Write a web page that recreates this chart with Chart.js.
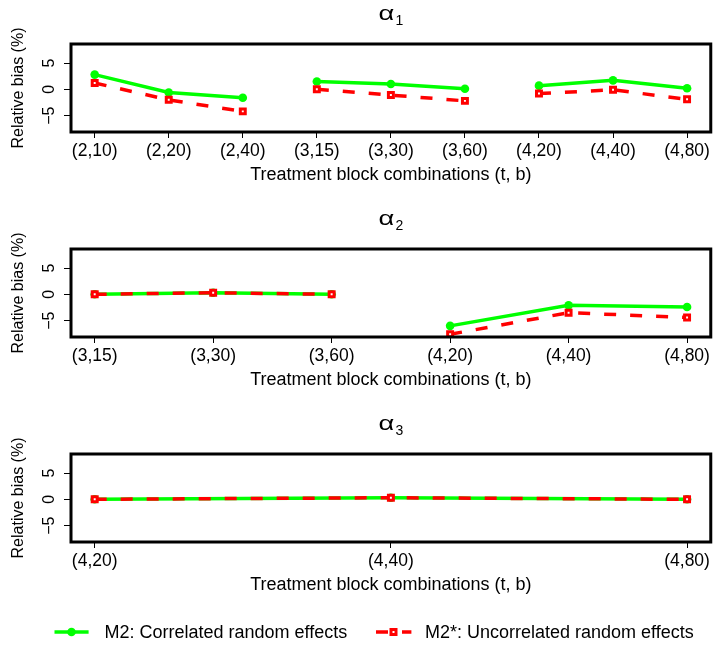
<!DOCTYPE html>
<html>
<head>
<meta charset="utf-8">
<title>Relative bias by treatment block combination</title>
<script src="https://cdn.jsdelivr.net/npm/chart.js@4/dist/chart.umd.min.js"></script>
<style>
  html, body { margin: 0; padding: 0; background: #fff; }
  #wrap { position: relative; width: 713px; height: 655px; overflow: hidden; }
  .panel { position: absolute; left: 0; }
  #legend { position: absolute; left: 0; top: 612px; }
</style>
</head>
<body>
<div id="wrap">
  <canvas class="panel" id="alpha1" width="713" height="205" style="top:0px"></canvas>
  <canvas class="panel" id="alpha2" width="713" height="205" style="top:205px"></canvas>
  <canvas class="panel" id="alpha3" width="713" height="205" style="top:410px"></canvas>
  <svg id="legend" width="713" height="40" xmlns="http://www.w3.org/2000/svg">
    <line x1="54.5" y1="20" x2="88.6" y2="20" stroke="#00ff00" stroke-width="3.5"/>
    <circle cx="71.5" cy="20" r="4.3" fill="#00ff00"/>
    <text x="104.5" y="20" dominant-baseline="central" font-family="Liberation Sans, Arial, sans-serif" font-size="18" fill="#000">M2: Correlated random effects</text>
    <line x1="376" y1="20" x2="411.4" y2="20" stroke="#ff0000" stroke-width="3.5" stroke-dasharray="12 14"/>
    <rect x="391" y="17.5" width="5" height="5" fill="#fff" stroke="#ff0000" stroke-width="3"/>
    <text x="425" y="20" dominant-baseline="central" font-family="Liberation Sans, Arial, sans-serif" font-size="18" fill="#000">M2*: Uncorrelated random effects</text>
  </svg>
</div>
<script>
// Treatment block combinations (t, b) and relative bias (%) for each parameter
const labelsAlpha1 = ['(2,10)', '(2,20)', '(2,40)', '(3,15)', '(3,30)', '(3,60)', '(4,20)', '(4,40)', '(4,80)'];
const m2Alpha1     = [2.8, -0.6, -1.6, 1.5, 1.0, 0.1, 0.7, 1.7, 0.2];
const m2sAlpha1    = [1.2, -2.0, -4.2, 0.0, -1.1, -2.2, -0.8, -0.1, -1.9];

const labelsAlpha2 = ['(3,15)', '(3,30)', '(3,60)', '(4,20)', '(4,40)', '(4,80)'];
const m2Alpha2     = [0.0, 0.3, 0.0, -6.0, -2.1, -2.4];
const m2sAlpha2    = [0.0, 0.3, 0.0, -7.6, -3.5, -4.4];

const labelsAlpha3 = ['(4,20)', '(4,40)', '(4,80)'];
const m2Alpha3     = [0.0, 0.3, 0.0];
const m2sAlpha3    = [0.0, 0.3, 0.0];

const yTicks = [-5, 0, 5];
const yLimits = [-7.5, 8];

const GREEN = '#00ff00';
const RED = '#ff0000';
const FONT = '"Liberation Sans", Arial, sans-serif';

Chart.defaults.font.family = FONT;
Chart.defaults.color = '#000';

// number of treatments t in a "(t,b)" label; lines break where t changes
function treatmentsOf(label) {
  return label.slice(1, label.indexOf(','));
}

function toPoints(labels, values) {
  const pts = [];
  labels.forEach((lab, i) => {
    if (i > 0 && treatmentsOf(labels[i - 1]) !== treatmentsOf(lab)) {
      pts.push({ x: i + 0.5, y: null });
    }
    pts.push({ x: i + 1, y: values[i] });
  });
  return pts;
}

function fmtTick(v) {
  return v < 0 ? '\u2212' + Math.abs(v) : String(v);
}

// frame around the plotting region, vertical y tick labels and the alpha_k heading
const framePlugin = {
  id: 'frame',
  afterDraw(chart, args, opts) {
    const { ctx, chartArea: a } = chart;
    ctx.save();
    ctx.strokeStyle = '#000';
    ctx.lineWidth = 3;
    ctx.strokeRect(a.left, a.top, a.right - a.left, a.bottom - a.top);

    // y tick labels read bottom-to-top, parallel to the axis
    const ys = chart.scales.y;
    ctx.fillStyle = '#000';
    ctx.font = '16px ' + FONT;
    ctx.textAlign = 'center';
    ctx.textBaseline = 'middle';
    ys.ticks.forEach(t => {
      const py = ys.getPixelForValue(t.value);
      ctx.save();
      ctx.translate(a.left - 21, py);
      ctx.rotate(-Math.PI / 2);
      ctx.fillText(fmtTick(t.value), 0, 0);
      ctx.restore();
    });

    const greek = '\u03b1';
    const greekFont = '21px "Liberation Sans"';
    const stretch = 1.3;
    ctx.font = greekFont;
    const wg = ctx.measureText(greek).width * stretch;
    ctx.font = '14px ' + FONT;
    const ws = ctx.measureText(opts.sub).width;
    const cx = (a.left + a.right) / 2;
    const x0 = cx - (wg + 1 + ws) / 2;
    const base = a.top - 24;
    ctx.textBaseline = 'alphabetic';
    ctx.textAlign = 'left';
    ctx.save();
    ctx.translate(x0, base);
    ctx.scale(stretch, 1);
    ctx.font = greekFont;
    ctx.fillText(greek, 0, 0);
    ctx.restore();
    ctx.font = '14px ' + FONT;
    ctx.fillText(opts.sub, x0 + wg + 1, base + 5);
    ctx.restore();
  }
};

function makePanel(canvasId, sub, labels, m2, m2s) {
  const n = labels.length;
  const xPad = (n - 1) * 0.04;
  const ySpan = yLimits[1] - yLimits[0];
  const tickGrid = len => ({
    display: true, drawOnChartArea: false, drawTicks: true,
    tickLength: len, color: '#000', lineWidth: 1
  });
  return new Chart(document.getElementById(canvasId), {
    type: 'line',
    data: {
      datasets: [
        {
          label: 'M2*: Uncorrelated random effects',
          data: toPoints(labels, m2s),
          borderColor: RED,
          borderWidth: 3.5,
          borderDash: [12, 14],
          pointStyle: 'rect',
          pointRadius: 3.5,
          pointBorderWidth: 3,
          pointBorderColor: RED,
          pointBackgroundColor: '#fff',
          spanGaps: false,
          tension: 0,
          order: 0
        },
        {
          label: 'M2: Correlated random effects',
          data: toPoints(labels, m2),
          borderColor: GREEN,
          borderWidth: 3.5,
          pointStyle: 'circle',
          pointRadius: 4.3,
          pointBorderWidth: 0,
          pointBorderColor: GREEN,
          pointBackgroundColor: GREEN,
          spanGaps: false,
          tension: 0,
          order: 1
        }
      ]
    },
    options: {
      responsive: false,
      animation: false,
      events: [],
      layout: { padding: { left: 0, right: 2, top: 44, bottom: 0 }, autoPadding: false },
      plugins: {
        legend: { display: false },
        tooltip: { enabled: false },
        frame: { sub: sub }
      },
      scales: {
        x: {
          type: 'linear',
          min: 1 - xPad,
          max: n + xPad,
          afterBuildTicks: s => { s.ticks = labels.map((_, i) => ({ value: i + 1 })); },
          ticks: {
            callback: v => labels[Math.round(v) - 1],
            font: { size: 17.5 },
            color: '#000',
            padding: 3,
            maxRotation: 0,
            autoSkip: false
          },
          grid: tickGrid(6),
          border: { display: false },
          title: {
            display: true,
            text: 'Treatment block combinations (t, b)',
            font: { size: 18 },
            color: '#000',
            padding: { top: 0, bottom: 19 }
          },
          afterFit: s => { s.height = 73; }
        },
        y: {
          min: yLimits[0] - ySpan * 0.04,
          max: yLimits[1] + ySpan * 0.04,
          afterBuildTicks: s => { s.ticks = yTicks.map(v => ({ value: v })); },
          ticks: { display: false },
          grid: tickGrid(7),
          border: { display: false },
          title: {
            display: true,
            text: 'Relative bias (%)',
            font: { size: 16 },
            color: '#000',
            padding: { top: 9, bottom: 0 }
          },
          afterFit: s => { s.width = 71; }
        }
      }
    },
    plugins: [framePlugin]
  });
}

makePanel('alpha1', '1', labelsAlpha1, m2Alpha1, m2sAlpha1);
makePanel('alpha2', '2', labelsAlpha2, m2Alpha2, m2sAlpha2);
makePanel('alpha3', '3', labelsAlpha3, m2Alpha3, m2sAlpha3);
</script>
</body>
</html>
